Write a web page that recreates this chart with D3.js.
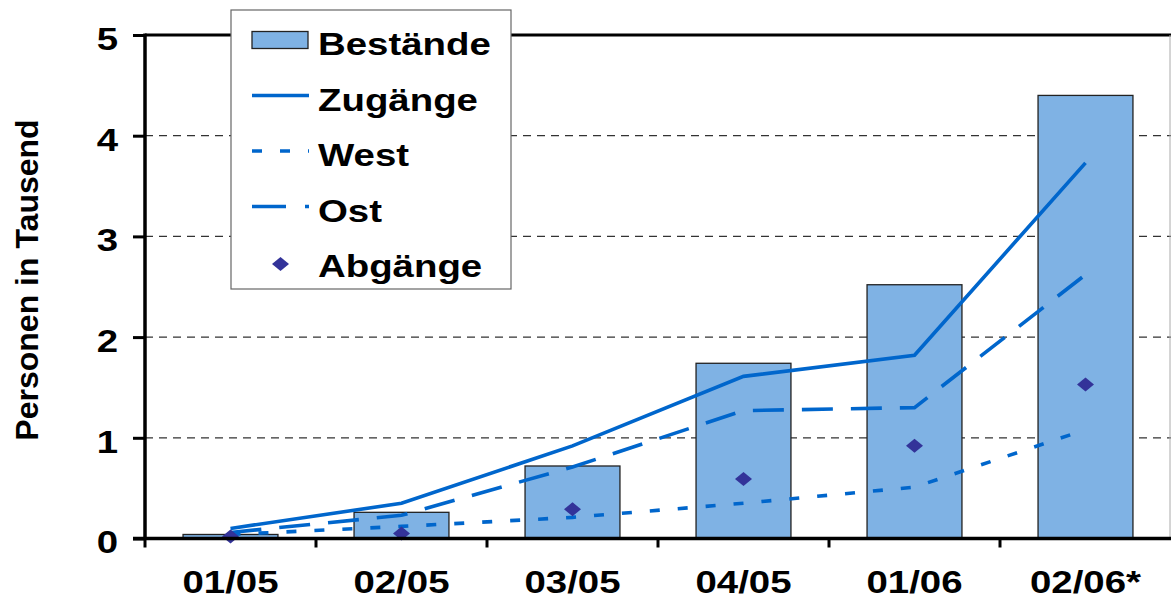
<!DOCTYPE html>
<html lang="de">
<head>
<meta charset="UTF-8">
<title>Bestände, Zugänge, Abgänge</title>
<script src="https://d3js.org/d3.v7.min.js"></script>
<style>
  body { margin: 0; background: #fff; }
  svg text { font-family: "Liberation Sans", Arial, sans-serif; font-weight: bold; fill: #000; }
</style>
</head>
<body>
<div id="chart"></div>
<script>
// values in thousand persons
const categories = ["01/05", "02/05", "03/05", "04/05", "01/06", "02/06*"];
const bestaende  = [0.04, 0.26, 0.72, 1.74, 2.52, 4.40];
const zugaenge   = [0.10, 0.35, 0.92, 1.61, 1.82, 3.73];
const west       = [0.04, 0.12, 0.21, 0.35, 0.51, 1.08];
const ost        = [0.06, 0.23, 0.71, 1.27, 1.30, 2.62];
const abgaenge   = [0.02, 0.05, 0.29, 0.59, 0.92, 1.53];
const yTicks     = [0, 1, 2, 3, 4, 5];
const legendLabels = ["Bestände", "Zugänge", "West", "Ost", "Abgänge"];

const W = 1171, H = 599;
const plotLeft = 145, plotRight = 1171, plotTop = 35, plotBottom = 538.5;

const barFill = "#7fb2e4", lineBlue = "#0066cc", diamondCol = "#333399";
const stretch = "scale(1.2,1)";
const lineW = 3.6;

const svg = d3.select("#chart").append("svg")
    .attr("width", W).attr("height", H);

const x = d3.scaleBand().domain(categories)
    .range([plotLeft, plotRight]).paddingInner(0.445).paddingOuter(0.2225);
const y = d3.scaleLinear().domain([0, 5]).range([plotBottom, plotTop]);
const cx = i => x(categories[i]) + x.bandwidth() / 2;

// dashed grid
svg.append("g").selectAll("line")
  .data(yTicks.filter(t => t > 0 && t < 5))
  .join("line")
    .attr("x1", plotLeft).attr("x2", plotRight)
    .attr("y1", d => y(d)).attr("y2", d => y(d))
    .attr("stroke", "#333").attr("stroke-width", 1.2)
    .attr("stroke-dasharray", "8,6");

// plot frame: top black, right thin gray
svg.append("line").attr("x1", plotLeft).attr("x2", plotRight)
    .attr("y1", y(5)).attr("y2", y(5))
    .attr("stroke", "#000").attr("stroke-width", 3);
svg.append("line").attr("x1", plotRight - 1).attr("x2", plotRight - 1)
    .attr("y1", y(5)).attr("y2", y(0))
    .attr("stroke", "#aaa").attr("stroke-width", 1);

// bars
svg.append("g").selectAll("rect")
  .data(bestaende)
  .join("rect")
    .attr("x", (d, i) => x(categories[i]))
    .attr("width", x.bandwidth())
    .attr("y", d => y(d))
    .attr("height", d => y(0) - y(d))
    .attr("fill", barFill)
    .attr("stroke", "#222").attr("stroke-width", 1.3);

// lines
const line = d3.line().x((d, i) => cx(i)).y(d => y(d));
const series = [
  { data: zugaenge, dash: null },
  { data: ost, dash: "31,18" },
  { data: west, dash: "10,18" }
];
svg.append("g").selectAll("path")
  .data(series)
  .join("path")
    .attr("d", d => line(d.data))
    .attr("fill", "none")
    .attr("stroke", lineBlue)
    .attr("stroke-width", lineW)
    .attr("stroke-dasharray", d => d.dash);

// diamonds
const diamond = "M0,-7L8.5,0L0,7L-8.5,0Z";
svg.append("g").selectAll("path")
  .data(abgaenge)
  .join("path")
    .attr("d", diamond)
    .attr("transform", (d, i) => `translate(${cx(i)},${y(d)})`)
    .attr("fill", diamondCol);

// y axis
const yAxis = svg.append("g")
    .attr("transform", `translate(${plotLeft},0)`)
    .call(d3.axisLeft(y).tickValues(yTicks).tickFormat(d3.format("d"))
      .tickSize(12).tickPadding(10.5));
yAxis.select(".domain").remove();
yAxis.selectAll(".tick line").attr("stroke", "#000").attr("stroke-width", 3);
yAxis.selectAll("text")
    .attr("font-size", 32).attr("dy", "0.45em")
    .attr("transform", stretch);
svg.append("line").attr("x1", plotLeft).attr("x2", plotLeft)
    .attr("y1", y(5) - 1.5).attr("y2", y(0) + 1.5)
    .attr("stroke", "#000").attr("stroke-width", 3.5);

// x axis
const xAxis = svg.append("g")
    .attr("transform", `translate(0,${plotBottom})`)
    .call(d3.axisBottom(x).tickSize(0));
xAxis.select(".domain").remove();
xAxis.selectAll("text")
    .attr("font-size", 32).attr("y", 55).attr("dy", 0)
    .attr("transform", stretch);
svg.append("line").attr("x1", plotLeft - 12).attr("x2", plotRight)
    .attr("y1", plotBottom).attr("y2", plotBottom)
    .attr("stroke", "#000").attr("stroke-width", 3.5);
// tick marks between categories
svg.append("g").selectAll("line")
  .data(categories)
  .join("line")
    .attr("x1", d => x(d) + x.bandwidth() / 2 - x.step() / 2)
    .attr("x2", d => x(d) + x.bandwidth() / 2 - x.step() / 2)
    .attr("y1", plotBottom).attr("y2", plotBottom + 9)
    .attr("stroke", "#000").attr("stroke-width", 3);

// y title
svg.append("text")
    .attr("transform", "translate(37.5,280) rotate(-90)")
    .attr("text-anchor", "middle")
    .attr("font-size", 32)
    .text("Personen in Tausend");

// legend
const lg = svg.append("g").attr("transform", "translate(231,10)");
lg.append("rect").attr("width", 280).attr("height", 279)
    .attr("fill", "#fff").attr("stroke", "#666").attr("stroke-width", 1.2);
const rowY = i => 30 + i * 55.5;
lg.append("rect").attr("x", 21).attr("y", rowY(0) - 8.5)
    .attr("width", 56).attr("height", 17)
    .attr("fill", barFill).attr("stroke", "#222").attr("stroke-width", 1.3);
[[1, null], [2, "10,18"], [3, "34,19"]].forEach(([i, dash]) => {
  lg.append("line").attr("x1", 21).attr("x2", 78)
      .attr("y1", rowY(i)).attr("y2", rowY(i))
      .attr("stroke", lineBlue).attr("stroke-width", lineW)
      .attr("stroke-dasharray", dash);
});
lg.append("path").attr("d", diamond)
    .attr("transform", `translate(49.5,${rowY(4) + 2})`)
    .attr("fill", diamondCol);
lg.selectAll("text.lab")
  .data(legendLabels)
  .join("text")
    .attr("class", "lab")
    .attr("transform", (d, i) => `translate(87,${rowY(i) + 15}) ${stretch}`)
    .attr("font-size", 32)
    .text(d => d);
</script>
</body>
</html>
